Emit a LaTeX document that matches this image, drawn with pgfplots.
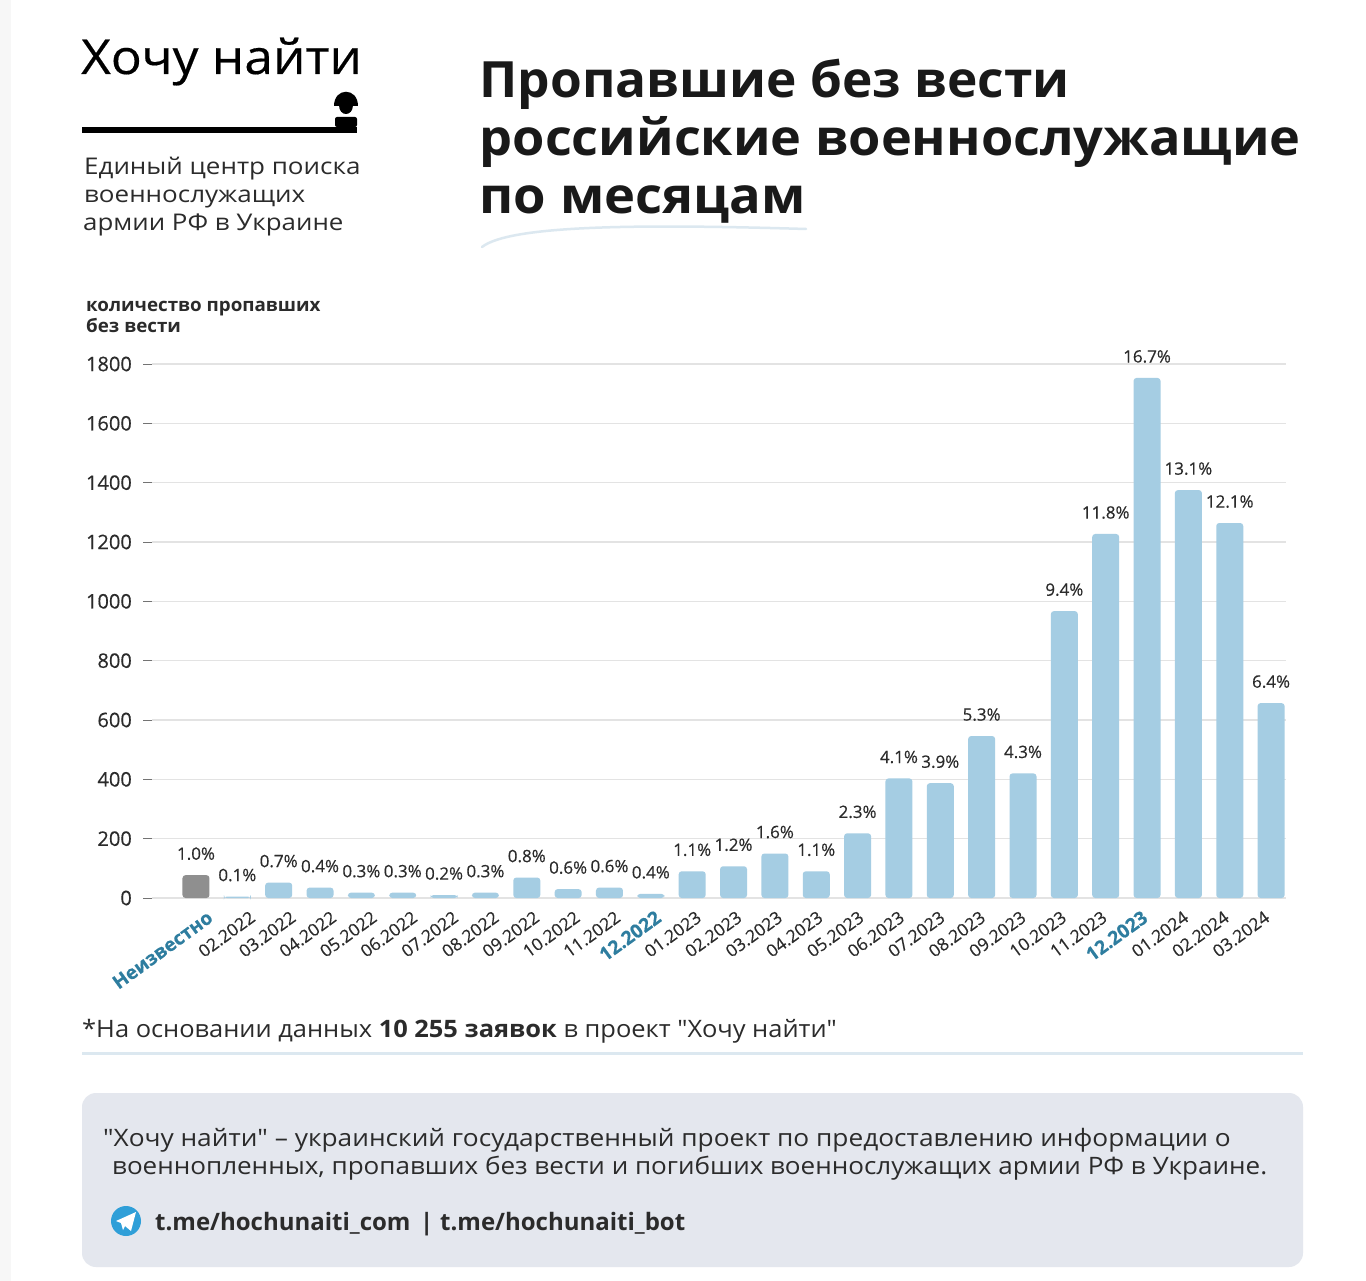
\documentclass[border=0pt]{standalone}
\usepackage{fontspec}
\usepackage{graphicx}
\setmainfont{Open Sans}[Ligatures=TeXOff]
\newfontfamily\med{Open Sans}[FakeBold=0.35,Ligatures=TeXOff]
\usepackage{pgfplots}
\usepackage{pgfplotstable}
\pgfplotsset{compat=1.18}
\definecolor{barblue}{HTML}{A5CDE3}
\definecolor{bargrey}{HTML}{8F8F8F}
\definecolor{hilite}{HTML}{2E7D9F}
\definecolor{gridc}{HTML}{E3E3E3}
\definecolor{txt}{HTML}{2B2B2B}
\definecolor{boxc}{HTML}{E4E7EE}
\definecolor{rulec}{HTML}{DCE8F0}
\definecolor{tg}{HTML}{2F9FD8}
\newcommand{\fs}[1]{\fontsize{#1}{#1}\selectfont}
\newcommand{\sx}[2]{\scalebox{#1}[1]{#2}}

\pgfplotstableread{
x y lab
0 77 1.0
}\unknowndata
\pgfplotstableread{
x y lab
1 5 0.1
2 52 0.7
3 35 0.4
4 18 0.3
5 18 0.3
6 10 0.2
7 18 0.3
8 69 0.8
9 30 0.6
10 35 0.6
11 14 0.4
12 90 1.1
13 107 1.2
14 150 1.6
15 90 1.1
16 218 2.3
17 403 4.1
18 387 3.9
19 546 5.3
20 420 4.3
21 967 9.4
22 1227 11.8
23 1753 16.7
24 1375 13.1
25 1264 12.1
26 657 6.4
}\monthdata

\begin{document}
\begin{tikzpicture}[x=1pt,y=1pt]
\path[fill=white,use as bounding box] (0,0) rectangle (1366,-1281);
\fill[black!3] (0,0) rectangle (11,-1281);

% header left
\node[anchor=base west,inner sep=0,font=\med\fs{48}] at (81,-74) {\sx{1.07}{Хочу найти}};
\draw[line width=6pt,black] (82,-130) -- (357,-130);
\fill[black] (334,-106) .. controls (334,-87) and (358,-87) .. (358,-106) -- cycle;
\fill[black] (339,-105) .. controls (339,-117) and (353,-117) .. (353,-105) -- cycle;
\fill[black,rounded corners=2pt] (335,-127) -- (335,-117) -- (357,-117) -- (357,-127) -- cycle;
\node[anchor=base west,inner sep=0,font=\fs{23},text=txt] at (84,-175) {\sx{1.13}{Единый центр поиска}};
\node[anchor=base west,inner sep=0,font=\fs{23},text=txt] at (84,-203) {\sx{1.13}{военнослужащих}};
\node[anchor=base west,inner sep=0,font=\fs{23},text=txt] at (83,-231) {\sx{1.125}{армии РФ в Украине}};

% title
\node[anchor=base west,inner sep=0,font=\bfseries\fs{50},text=black!90] at (479.5,-98) {\sx{1.028}{Пропавшие без вести}};
\node[anchor=base west,inner sep=0,font=\bfseries\fs{50},text=black!90] at (479.5,-156) {\sx{1.045}{российские военнослужащие}};
\node[anchor=base west,inner sep=0,font=\bfseries\fs{50},text=black!90] at (479.5,-214) {\sx{1.05}{по месяцам}};
\draw[rulec,line width=2.5pt,line cap=round] (482,-247) .. controls (510,-225) and (640,-224) .. (806,-229);

% y label
\node[anchor=base west,inner sep=0,font=\bfseries\fs{18.5},text=txt] at (86,-312) {\sx{1.015}{количество пропавших}};
\node[anchor=base west,inner sep=0,font=\bfseries\fs{18.5},text=txt] at (86,-333) {\sx{1.015}{без вести}};

\begin{axis}[
    at={(152pt,-898pt)},anchor=south west,
    scale only axis,
    width=1134pt,height=534pt,
    ybar,
    bar width=27pt,
    bar shift=0pt,
    clip=false,
    xmin=-1.064,xmax=26.36,
    ymin=0,ymax=1800,
    ytick={0,200,...,1800},
    ytick pos=left,
    xtick={0.42,1.45,2.43,3.41,4.39,5.37,6.36,7.34,8.32,9.30,10.28,11.26,12.24,13.22,14.20,15.18,16.17,17.15,18.13,19.11,20.09,21.07,22.05,23.03,24.02,25.00,25.98},
    xticklabels={\textcolor{hilite}{\bfseries\fs{19}Неизвестно},02.2022,03.2022,04.2022,05.2022,06.2022,07.2022,08.2022,09.2022,10.2022,11.2022,\textcolor{hilite}{\bfseries\fs{19}12.2022},01.2023,02.2023,03.2023,04.2023,05.2023,06.2023,07.2023,08.2023,09.2023,10.2023,11.2023,\textcolor{hilite}{\bfseries\fs{19}12.2023},01.2024,02.2024,03.2024},
    axis line style={draw=none},
    ymajorgrids,
    grid style={gridc,line width=1.2pt},
    xtick style={draw=none},
    ytick style={black!55,line width=1pt},
    major tick length=9pt,
    tick align=outside,
    /pgf/number format/assume math mode=true,
    /pgf/number format/1000 sep={},
    y tick label style={font=\med\fs{20},text=txt,inner sep=0pt,xshift=-11pt},
    x tick label style={font=\med\fs{17.5},text=txt,xshift=-3pt,yshift=-8pt,rotate=36,anchor=east,inner sep=0pt},
    point meta=explicit symbolic,
    nodes near coords={\pgfplotspointmeta\%},
    every node near coord/.style={font=\med\fs{17},text=txt,anchor=south,inner sep=0pt,yshift=15pt},
]
\addplot[fill=bargrey,draw=none,rounded corners=3pt] table[x=x,y=y,meta=lab] {\unknowndata};
\addplot[fill=barblue,draw=none,rounded corners=3pt] table[x=x,y=y,meta=lab] {\monthdata};
\end{axis}

% notes
\node[anchor=base west,inner sep=0,font=\fs{24},text=txt] at (82,-1037) {\sx{1.06}{*На основании данных \textbf{10 255 заявок} в проект "Хочу найти"}};
\draw[rulec,line width=3pt] (82,-1053) -- (1303,-1053);
\fill[boxc,rounded corners=14pt] (82,-1093) rectangle (1303,-1267);
\node[anchor=base west,inner sep=0,font=\fs{24},text=txt] at (103,-1146) {\sx{1.095}{"Хочу найти" – украинский государственный проект по предоставлению информации о}};
\node[anchor=base west,inner sep=0,font=\fs{24},text=txt] at (112,-1174) {\sx{1.085}{военнопленных, пропавших без вести и погибших военнослужащих армии РФ в Украине.}};
\fill[tg] (126,-1221) circle (15);
\fill[white] (116,-1221) -- (136,-1212) -- (131,-1231) -- (125,-1226) -- (123,-1230) -- (121,-1223) -- cycle;
\node[anchor=base west,inner sep=0,font=\bfseries\fs{24},text=txt] at (155,-1230) {t.me/hochunaiti\_com};
\node[anchor=base west,inner sep=0,font=\bfseries\fs{24},text=txt] at (420,-1230) {|};
\node[anchor=base west,inner sep=0,font=\bfseries\fs{24},text=txt] at (440,-1230) {t.me/hochunaiti\_bot};
\end{tikzpicture}
\end{document}
